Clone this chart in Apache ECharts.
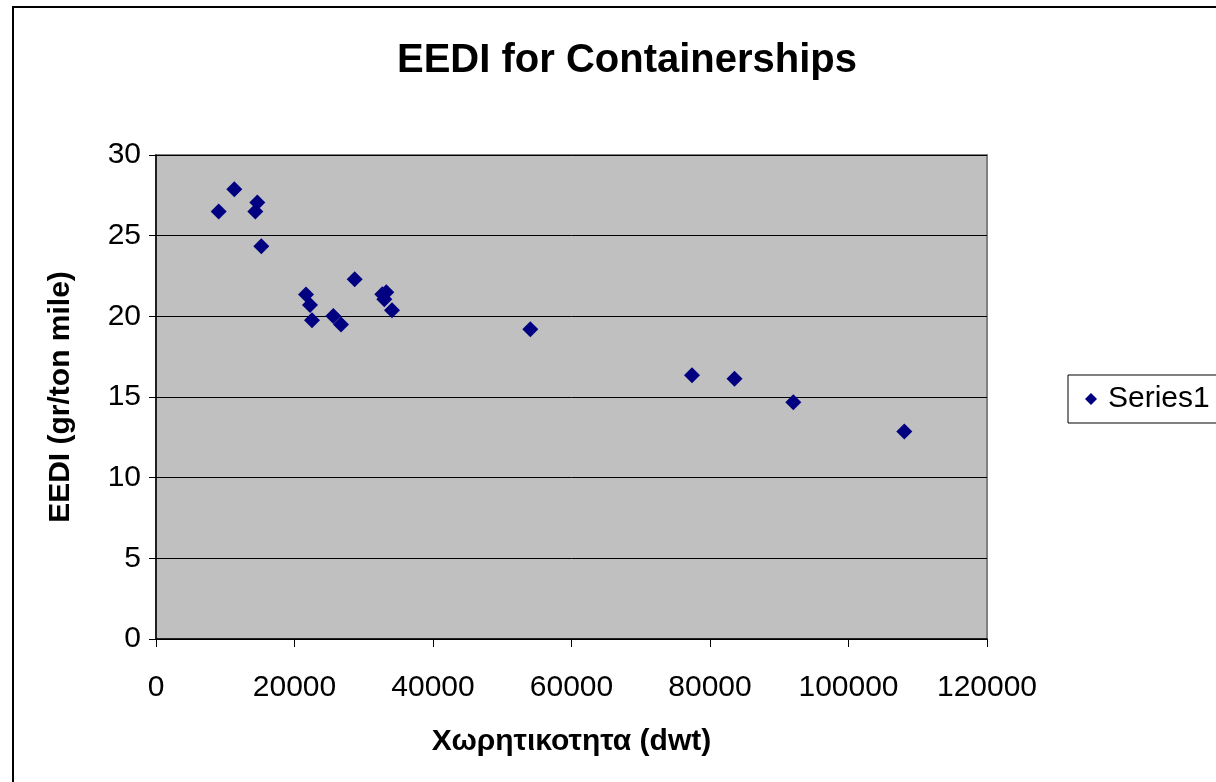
<!DOCTYPE html>
<html><head><meta charset="utf-8">
<script src="https://cdn.jsdelivr.net/npm/echarts@6/dist/echarts.min.js"></script>
<style>
html,body{margin:0;padding:0;background:#fff;}
#frame{position:absolute;left:12px;top:6px;width:1300px;height:900px;border:2px solid #000;box-sizing:border-box;}
#c{position:absolute;left:0;top:0;width:1216px;height:782px;}
</style></head>
<body><div id="frame"></div><div id="c"></div>
<script>
const dwt = [9054, 11307, 14628, 14340, 15206, 21661, 22238, 22527, 25603, 26715, 28693, 32679, 33256, 32968, 34079, 54051, 77401, 83538, 92029, 108058];
const eedi = [26.5, 27.87, 27.06, 26.5, 24.35, 21.35, 20.7, 19.75, 20.02, 19.5, 22.3, 21.37, 21.5, 21.06, 20.37, 19.2, 16.35, 16.13, 14.68, 12.86];
const seriesName = 'Series1';
const titleText = 'EEDI for Containerships';
const xName = 'Χωρητικοτητα (dwt)';
const yName = 'EEDI (gr/ton mile)';

const chart = echarts.init(document.getElementById('c'), null, {renderer:'canvas'});
const F = 'Liberation Sans, Arial, sans-serif';
chart.setOption({
  animation:false,
  title:{text:titleText,left:622,top:36,textAlign:'center',textStyle:{fontFamily:F,fontWeight:'bold',fontSize:40,color:'#000'}},
  legend:{data:[{name:seriesName,icon:'diamond'}],left:1068,top:375,orient:'vertical',
    borderColor:'#000',borderWidth:1,padding:[9,30,9,17],itemWidth:12,itemHeight:12,itemGap:6,
    textStyle:{fontFamily:F,fontSize:30,color:'#000',padding:[0,0,0,6]}},
  grid:{left:156,top:155,right:229,bottom:143,show:true,backgroundColor:'#c0c0c0',borderColor:'#808080',borderWidth:2},
  xAxis:{type:'value',min:0,max:120000,interval:20000,name:xName,nameLocation:'middle',nameGap:88,
    nameTextStyle:{fontFamily:F,fontWeight:'bold',fontSize:30,color:'#000'},
    axisLine:{show:true,onZero:false,lineStyle:{color:'#000',width:1.5}},
    axisTick:{show:true,length:8,inside:false,lineStyle:{color:'#000'}},
    axisLabel:{fontFamily:F,fontSize:30,color:'#000',margin:34,formatter:v=>String(v)},
    splitLine:{show:false}},
  yAxis:{type:'value',min:0,max:30,interval:5,name:yName,nameLocation:'middle',nameGap:80,
    nameTextStyle:{fontFamily:F,fontWeight:'bold',fontSize:30,color:'#000'},
    axisLine:{show:true,onZero:false,lineStyle:{color:'#000',width:1.5}},
    axisTick:{show:true,length:7,lineStyle:{color:'#000'}},
    axisLabel:{fontFamily:F,fontSize:30,color:'#000',margin:15},
    splitLine:{show:true,lineStyle:{color:'#000',width:1}}},
  series:[{name:seriesName,type:'scatter',symbol:'diamond',symbolSize:16,
    itemStyle:{color:'#000080',opacity:1},
    data:dwt.map((x,i)=>[x,eedi[i]])}]
});
</script></body></html>
